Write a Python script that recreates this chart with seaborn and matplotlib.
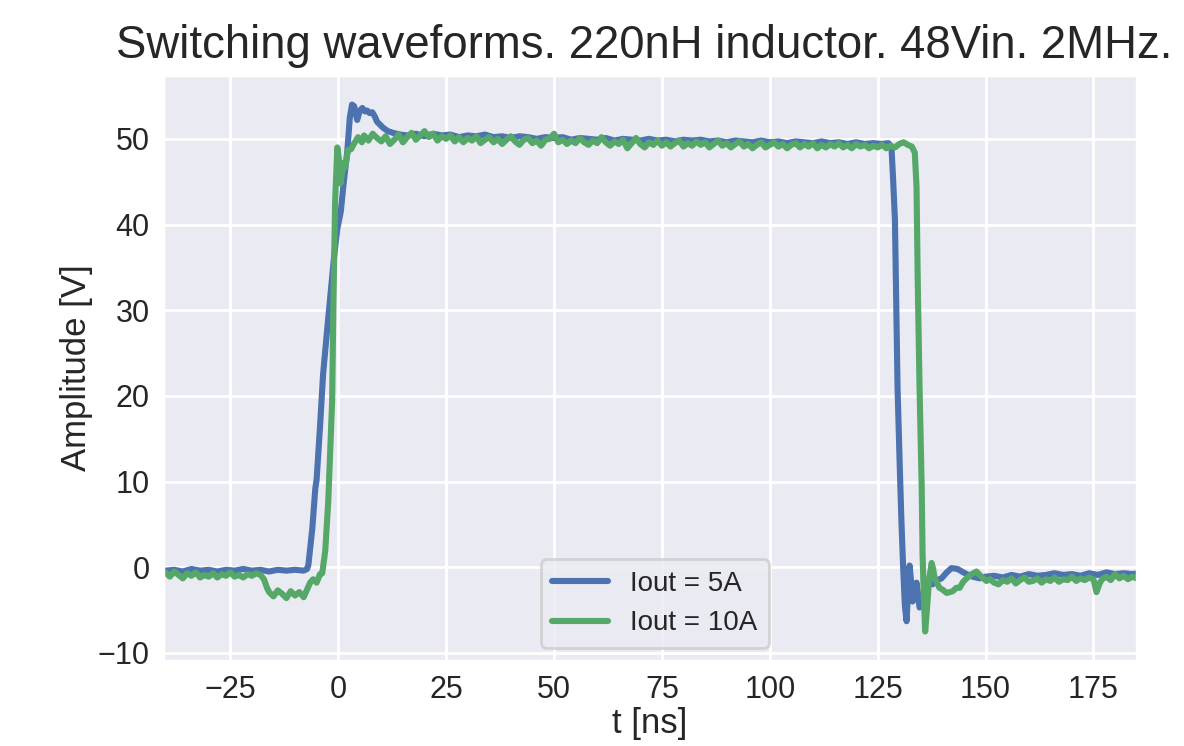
import numpy as np
import pandas as pd
import matplotlib
matplotlib.use("Agg")
import matplotlib.pyplot as plt
import seaborn as sns

# Iout = 5A trace (time in ns, amplitude in V)
t_5a = [-40, -38, -36, -34, -32, -30, -28, -26, -24, -22, -20, -18, -16, -14, -12, -10, -8, -7.2,
        -6.9, -6.0, -5.3, -5.0, -4.2, -3.5, -2.6, -1.85, -1.0, -0.2, 0.6, 1.2, 2.1, 2.7, 3.2, 3.7,
        4.4, 5.0, 5.6, 6.2, 6.7, 7.3, 7.9, 8.5, 9.0, 10.4, 11.5, 12.7, 14.4,
        16, 18, 20, 22, 24, 26, 28, 30, 32, 34, 36, 38, 40, 42, 44, 46, 48, 50, 52, 54, 56, 58,
        60, 62, 64, 66, 68, 70, 72, 74, 76, 78, 80, 82, 84, 86, 88, 90, 92, 94, 96, 98, 100,
        102, 104, 106, 108, 110, 112, 114, 116, 118, 120, 122, 124, 126, 127.5,
        128.2, 128.6, 129.0, 129.6, 130.1, 130.5, 130.9, 131.3, 131.7, 132.0, 132.4, 132.8, 133.1,
        133.6, 134.0, 134.7, 135.2, 135.9, 136.3, 137.0, 137.7, 138.8, 139.8, 141.0, 142.1, 143.5,
        144.5, 145.6, 147.0, 148.6,
        150, 152, 154, 156, 158, 160, 162, 164, 166, 168, 170, 172, 174, 176, 178, 180, 182, 184, 185.5]
v_5a = [-0.4, -0.3, -0.5, -0.2, -0.4, -0.3, -0.5, -0.3, -0.4, -0.2, -0.4, -0.3, -0.5, -0.3, -0.4, -0.3, -0.4, -0.2,
        0.3, 4.5, 9.2, 10.2, 16.5, 22.5, 27.5, 31.5, 36.0, 39.5, 41.5, 44.5, 48.5, 52.5, 54.0, 53.8,
        52.2, 53.3, 53.6, 53.2, 53.3, 53.0, 53.1, 52.6, 52.0, 51.3, 50.9, 50.7, 50.5,
        50.4, 50.6, 50.3, 50.6, 50.4, 50.5, 50.2, 50.4, 50.3, 50.5, 50.2, 50.3, 50.1, 50.3, 50.2, 50.0, 50.2, 50.1, 50.2, 49.9, 50.1, 50.0,
        49.9, 50.1, 49.8, 50.0, 49.9, 49.8, 50.0, 49.8, 49.9, 49.7, 49.9, 49.8, 49.9, 49.7, 49.8, 49.6, 49.8, 49.7, 49.6, 49.8, 49.6,
        49.7, 49.5, 49.7, 49.6, 49.5, 49.7, 49.5, 49.6, 49.4, 49.6, 49.4, 49.5, 49.4, 49.5,
        49.0, 45.0, 40.5, 21.0, 12.0, 5.4, 0.0, -4.5, -6.3, -3.0, 0.2, -2.0, -4.0,
        -3.4, -1.8, -4.7, -3.8, -2.5, -2.4, -1.8, -2.0, -1.5, -1.3, -0.6, -0.1, -0.2,
        -0.5, -0.8, -1.1, -1.3,
        -1.1, -1.0, -1.2, -0.9, -1.1, -0.8, -1.0, -0.9, -0.7, -0.9, -0.8, -1.0, -0.7, -0.9, -0.6, -0.8, -0.7, -0.8, -0.7]

# Iout = 10A trace
t_10a = [-40, -39, -38, -37, -36, -35, -34, -33, -32, -31, -30, -29, -28, -27, -26, -25, -24, -23, -22, -21, -20, -19, -18, -17.2,
         -16.5, -16, -15, -14, -13, -12, -11, -10, -9, -8, -7.2, -6.5, -5.8, -5, -4.2, -3.7, -3.0, -2.3, -1.4, -1.1, -0.7,
         -0.2, 0.2, 0.5, 0.9, 1.2, 1.6, 2.3, 3.0, 3.5, 4.6, 5.5,
         6, 7, 8, 9, 10, 11, 12, 13, 14, 15, 16, 17, 18, 19, 20, 21, 22, 23, 24, 25, 26, 27, 28, 29, 30,
         31, 32, 33, 34, 35, 36, 37, 38, 39, 40, 41, 42, 43, 44, 45, 46, 47, 48, 49, 50, 51, 52, 53, 54, 55,
         56, 57, 58, 59, 60, 61, 62, 63, 64, 65, 66, 67, 68, 69, 70, 71, 72, 73, 74, 75, 76, 77, 78, 79, 80,
         81, 82, 83, 84, 85, 86, 87, 88, 89, 90, 91, 92, 93, 94, 95, 96, 97, 98, 99, 100, 101, 102, 103, 104, 105,
         106, 107, 108, 109, 110, 111, 112, 113, 114, 115, 116, 117, 118, 119, 120, 121, 122, 123, 124, 125,
         126, 127, 128, 129, 130, 131, 132, 132.9,
         133.6, 134.0, 134.3, 134.7, 135.2, 135.4, 135.7, 136.0, 136.4, 136.9, 137.5, 137.9, 138.2, 139.3, 140.0,
         141.0, 142.4, 143.2, 144.0, 144.8, 145.6, 146.8, 147.9, 149.0, 150.2,
         151, 152, 153, 154, 155, 156, 157, 158, 159, 160, 161, 162, 163, 164, 165, 166, 167, 168, 169, 170,
         171, 172, 173, 174, 175, 175.7, 176.5, 177, 178, 179, 180, 181, 182, 183, 184, 185]
v_10a = [-0.6, -1.1, -0.5, -0.9, -1.3, -0.7, -1.0, -0.6, -1.2, -0.9, -1.1, -0.7, -1.2, -0.8, -1.0, -0.6, -1.1, -0.9, -1.2, -0.8, -1.0, -0.7, -0.9, -1.4,
         -2.4, -2.9, -3.4, -2.7, -3.1, -3.6, -2.8, -3.3, -2.9, -3.5, -2.6, -1.8, -1.4, -1.8, -0.8, -0.7, 1.9, 7.7, 19.4, 31.1, 42.8,
         49.0, 47.5, 44.8, 46.0, 47.2, 46.7, 48.7, 48.8, 49.3, 50.2, 49.6,
         50.4, 49.8, 50.6, 50.1, 49.7, 50.3, 49.4, 49.9, 50.5, 49.6, 50.2, 50.7, 49.9, 50.4, 50.9, 50.2, 50.6, 49.8, 50.3, 50.0, 50.4, 49.7, 50.2, 49.6, 50.1,
         49.8, 50.3, 49.5, 49.9, 50.2, 49.6, 50.0, 49.4, 49.9, 50.3, 49.7, 49.3, 49.9, 50.1, 49.5, 49.8, 49.2, 49.9, 50.0, 50.6, 49.6, 49.9, 49.4, 49.8, 49.5,
         50.1, 49.6, 49.3, 49.8, 49.5, 50.2, 49.6, 49.2, 49.7, 49.4, 49.9, 48.9, 49.5, 50.1, 49.4, 49.0, 49.6, 49.3, 49.8, 49.2, 49.6, 49.1, 49.5, 49.8, 49.1,
         49.5, 49.2, 49.7, 49.3, 49.6, 49.0, 49.4, 49.8, 49.2, 49.5, 49.0, 49.4, 49.7, 49.1, 49.4, 48.9, 49.3, 49.6, 49.0, 49.3, 49.6, 49.1, 49.4, 48.9, 49.3,
         49.5, 49.0, 49.4, 49.1, 49.5, 48.9, 49.3, 49.0, 49.4, 49.1, 49.5, 49.0, 49.3, 48.9, 49.4, 49.1, 49.3, 48.9, 49.2, 49.0,
         49.3, 48.9, 49.2, 49.0, 49.4, 49.6, 49.3, 49.1,
         48.4, 44.4, 32.7, 21.0, 9.3, 1.5, -3.5, -7.5, -5.0, -1.5, 0.5, -0.3, -1.3, -2.4, -2.6,
         -3.0, -2.8, -2.4, -2.4, -1.7, -1.3, -0.8, -0.5, -1.1, -1.6,
         -1.4, -1.8, -2.0, -1.5, -1.7, -1.3, -1.9, -1.5, -1.2, -1.7, -1.6, -1.3, -1.8, -1.4, -1.6, -1.2, -1.7, -1.4, -1.5, -1.1,
         -1.6, -1.3, -1.5, -1.2, -1.4, -2.9, -1.8, -1.4, -1.1, -1.5, -0.8, -1.3, -1.0, -1.4, -1.1, -1.3]

labels = ['Iout = 5A', 'Iout = 10A']

df = pd.concat([
    pd.DataFrame({'t': t_5a, 'v': v_5a, 'Iout': labels[0]}),
    pd.DataFrame({'t': t_10a, 'v': v_10a, 'Iout': labels[1]}),
])

sns.set_theme(context='notebook', style='darkgrid')
plt.rcParams['font.family'] = ['Liberation Sans', 'DejaVu Sans']

fig = plt.figure(figsize=(5.92, 3.73), dpi=200)
ax = fig.add_axes([0.138, 0.1133, 0.822, 0.7867])
sns.lineplot(data=df, x='t', y='v', hue='Iout', hue_order=labels,
             palette=['#4C72B0', '#55A868'], estimator=None, sort=False,
             linewidth=2.2, ax=ax)

ax.set_xlim(-40.5, 185)
ax.set_ylim(-11, 57.5)
ax.set_xticks([-25, 0, 25, 50, 75, 100, 125, 150, 175])
ax.set_yticks([-10, 0, 10, 20, 30, 40, 50])
ax.tick_params(axis='both', labelsize=11, length=0, pad=5)
ax.set_xlabel('t [ns]', fontsize=12.5, labelpad=0.5)
ax.set_ylabel('Amplitude [V]', fontsize=12.5, labelpad=1.5)
ax.set_title('Switching waveforms. 220nH inductor. 48Vin. 2MHz.', fontsize=16.4, x=0.494)
ax.legend(loc='lower center', bbox_to_anchor=(0.505, 0.0), fontsize=10, title=None)

fig.savefig('out.png', dpi=200)
